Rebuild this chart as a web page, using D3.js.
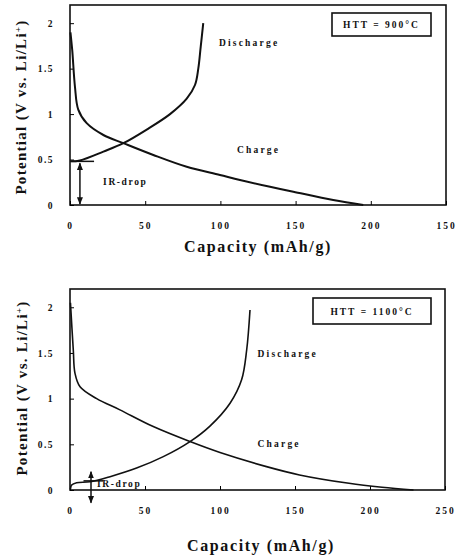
<!DOCTYPE html>
<html>
<head>
<meta charset="utf-8">
<script src="https://cdn.jsdelivr.net/npm/d3@7"></script>
<style>
  body { margin: 0; background: #fff; }
  svg text { font-family: "Liberation Serif", "DejaVu Serif", serif; font-weight: bold; fill: #111; }
  .tick text { font-size: 9.5px; letter-spacing: 2px; }
  .line { fill: none; stroke: #111; }
</style>
</head>
<body>
<svg id="fig" width="456" height="558"></svg>
<script>
// values (capacity mAh/g, potential V)
var xTicks = [0, 50, 100, 150, 200, 250];
var xTickLabelsTop = ["0", "50", "100", "150", "200", "150"];
var xTickLabelsBottom = ["0", "50", "100", "150", "200", "250"];
var yTicks = [0, 0.5, 1, 1.5, 2];
var yTickLabels = ["0", "0.5", "1", "1.5", "2"];

// HTT = 900°C
var chargeCap900 = [0.3, 1.5, 3.3, 5.5, 11.1, 22.2, 35.5, 55.4, 77.6, 99.7, 113, 133, 148.5, 175, 195];
var chargeV900   = [1.9, 1.70, 1.30, 1.05, 0.90, 0.77, 0.68, 0.55, 0.42, 0.33, 0.275, 0.20, 0.146, 0.055, 0];
var dischargeCap900 = [0.5, 6.6, 22.2, 35.5, 51, 66.5, 77.6, 83.1, 85.3, 86.9, 88.6];
var dischargeV900   = [0.48, 0.49, 0.587, 0.68, 0.83, 1.0, 1.17, 1.32, 1.50, 1.74, 2.0];

// HTT = 1100°C
var chargeCap1100 = [0.3, 2.2, 3.3, 6.7, 17.8, 33.3, 55.5, 80, 100, 131, 153, 186, 208, 229];
var chargeV1100   = [2.05, 1.53, 1.28, 1.13, 1.0, 0.877, 0.694, 0.53, 0.41, 0.256, 0.165, 0.073, 0.03, 0];
var dischargeCap1100 = [0.3, 1.1, 4.4, 13.3, 26.7, 44.4, 62.2, 80, 93.3, 106.7, 114.4, 117.8, 120];
var dischargeV1100   = [0.01, 0.055, 0.08, 0.09, 0.146, 0.24, 0.365, 0.53, 0.70, 0.95, 1.206, 1.535, 1.97];

var svg = d3.select("#fig");

var defs = svg.append("defs");
defs.append("marker").attr("id", "arr")
  .attr("viewBox", "0 0 10 10").attr("refX", 9).attr("refY", 5)
  .attr("markerWidth", 5).attr("markerHeight", 5).attr("orient", "auto-start-reverse")
  .append("path").attr("d", "M0,1 L10,5 L0,9 Z").attr("fill", "#111");

function panel(opts) {
  var x = d3.scaleLinear().domain([0, 250]).range(opts.xr);
  var y = d3.scaleLinear().domain([0, 2.2]).range(opts.yr);
  var g = svg.append("g");

  // frame
  g.append("rect")
    .attr("x", x(0)).attr("y", y(2.2))
    .attr("width", x(250) - x(0)).attr("height", y(0) - y(2.2))
    .attr("fill", "none").attr("stroke", "#111").attr("stroke-width", 1.6);

  var xAxis = d3.axisBottom(x).tickValues(xTicks)
    .tickSizeInner(-4).tickSizeOuter(0).tickPadding(17)
    .tickFormat(function(d, i) { return opts.xLabels[i]; });
  var gx = g.append("g").attr("class", "x axis")
    .attr("transform", "translate(0," + y(0) + ")").call(xAxis);
  gx.select(".domain").remove();

  var yAxis = d3.axisLeft(y).tickValues(yTicks)
    .tickSizeInner(-4).tickSizeOuter(0).tickPadding(16)
    .tickFormat(function(d, i) { return yTickLabels[i]; });
  var gy = g.append("g").attr("class", "y axis")
    .attr("transform", "translate(" + x(0) + ",0)").call(yAxis);
  gy.select(".domain").remove();
  gy.selectAll(".tick text").style("letter-spacing", "1.5px");

  var line = d3.line().curve(d3.curveCatmullRom.alpha(0.5))
    .x(function(d) { return x(d[0]); })
    .y(function(d) { return y(d[1]); });

  g.append("path").attr("class", "line").attr("stroke-width", opts.sw)
    .attr("d", line(d3.zip(opts.chargeCap, opts.chargeV)));
  g.append("path").attr("class", "line").attr("stroke-width", opts.sw)
    .attr("d", line(d3.zip(opts.dischargeCap, opts.dischargeV)));

  // legend box
  g.append("rect")
    .attr("x", opts.box[0]).attr("y", opts.box[1])
    .attr("width", opts.box[2]).attr("height", opts.box[3])
    .attr("fill", "#fff").attr("stroke", "#111").attr("stroke-width", 1.6);
  g.append("text")
    .attr("x", opts.box[0] + opts.box[2] / 2).attr("y", opts.box[1] + opts.box[3] / 2 + 3.5)
    .attr("text-anchor", "middle").style("font-size", "9.5px").style("letter-spacing", "2px")
    .text(opts.htt);

  // curve labels
  g.append("text").attr("x", x(opts.disLab[0])).attr("y", y(opts.disLab[1]))
    .style("font-size", "9.5px").style("letter-spacing", "2.2px").text("Discharge");
  g.append("text").attr("x", x(opts.chLab[0])).attr("y", y(opts.chLab[1]))
    .style("font-size", "9.5px").style("letter-spacing", "2.2px").text("Charge");
  g.append("text").attr("x", x(opts.irLab[0])).attr("y", y(opts.irLab[1]))
    .style("font-size", "9.5px").style("letter-spacing", "1.6px").text("IR-drop");

  // IR-drop markers
  g.append("line")
    .attr("x1", x(opts.irV[0])).attr("x2", x(opts.irV[0]))
    .attr("y1", y(opts.irV[1])).attr("y2", y(opts.irV[2]))
    .attr("stroke", "#111").attr("stroke-width", 1.5)
    .attr("marker-start", "url(#arr)").attr("marker-end", "url(#arr)");
  g.append("line")
    .attr("x1", x(opts.irH[0])).attr("x2", x(opts.irH[1]))
    .attr("y1", y(opts.irH[2])).attr("y2", y(opts.irH[2]))
    .attr("stroke", "#111").attr("stroke-width", 1.5);

  // axis titles
  g.append("text")
    .attr("x", opts.xTitle[0]).attr("y", opts.xTitle[1])
    .attr("text-anchor", "middle").style("font-size", "16px").style("letter-spacing", "1.6px")
    .text("Capacity (mAh/g)");
  var yt = g.append("text")
    .attr("transform", "translate(" + opts.yTitle[0] + "," + opts.yTitle[1] + ") rotate(-90)")
    .attr("text-anchor", "middle").style("font-size", "15px").style("letter-spacing", "1.3px");
  yt.append("tspan").text("Potential (V vs. Li/Li");
  yt.append("tspan").attr("baseline-shift", "super").style("font-size", "9px").text("+");
  yt.append("tspan").text(")");
}

panel({
  xr: [70, 446], yr: [205, 5], sw: 2,
  xLabels: xTickLabelsTop,
  chargeCap: chargeCap900, chargeV: chargeV900,
  dischargeCap: dischargeCap900, dischargeV: dischargeV900,
  box: [332, 13, 99, 23], htt: "HTT = 900°C",
  disLab: [99, 1.75], chLab: [111, 0.57], irLab: [22, 0.22],
  irV: [6.6, 0.01, 0.46], irH: [0, 16, 0.48],
  xTitle: [258, 252], yTitle: [26, 107]
});

panel({
  xr: [70, 445], yr: [490, 289], sw: 1.6,
  xLabels: xTickLabelsBottom,
  chargeCap: chargeCap1100, chargeV: chargeV1100,
  dischargeCap: dischargeCap1100, dischargeV: dischargeV1100,
  box: [313, 298, 118, 26], htt: "HTT = 1100°C",
  disLab: [125, 1.46], chLab: [125, 0.47], irLab: [18, 0.03],
  irV: [14, 0.2, -0.14], irH: [9, 22, 0.1],
  xTitle: [261, 551], yTitle: [27, 388]
});
</script>
</body>
</html>
